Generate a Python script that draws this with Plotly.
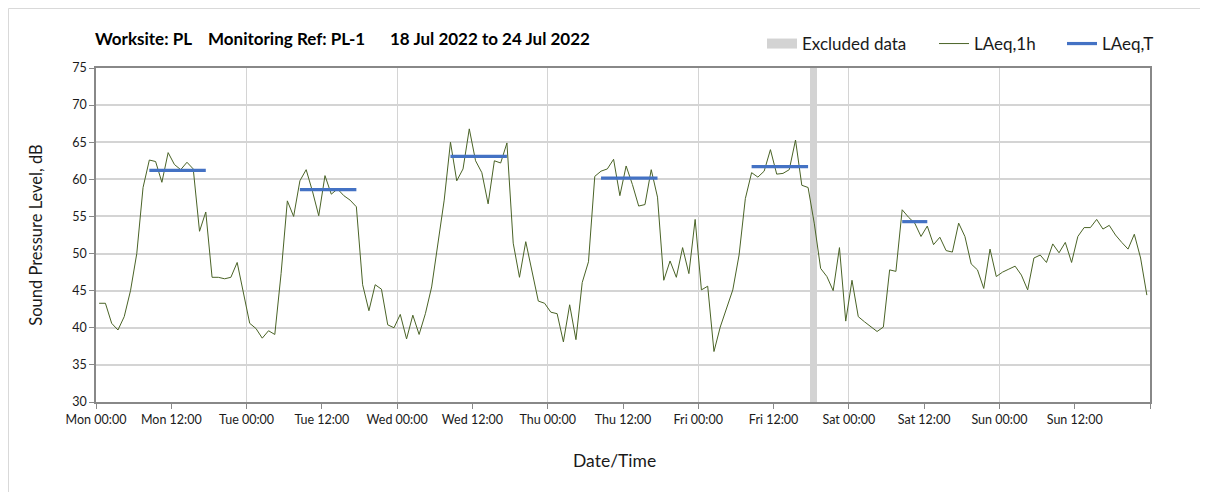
import numpy as np
import plotly.graph_objects as go

# ---- data ----
laeq_1h = [
    # Mon
    43.3, 43.3, 40.6, 39.7, 41.5, 45.0, 50.0, 58.9, 62.6, 62.4, 59.6, 63.6,
    62.0, 61.3, 62.3, 61.4, 53.0, 55.6, 46.8, 46.8, 46.6, 46.8, 48.8, 44.6,
    # Tue
    40.6, 39.9, 38.6, 39.6, 39.1, 47.3, 57.1, 55.0, 59.8, 61.3, 58.4, 55.1,
    60.5, 58.0, 58.7, 57.8, 57.2, 56.3, 45.8, 42.3, 45.8, 45.2, 40.4, 40.0,
    # Wed
    41.8, 38.5, 41.7, 39.1, 41.9, 45.5, 51.2, 57.2, 65.0, 59.8, 61.4, 66.8,
    62.5, 60.9, 56.7, 62.5, 62.2, 64.9, 51.4, 46.8, 51.6, 47.4, 43.6, 43.3,
    # Thu
    42.1, 41.9, 38.1, 43.1, 38.4, 46.1, 48.9, 60.4, 61.1, 61.4, 62.7, 57.8,
    61.8, 59.3, 56.4, 56.6, 61.3, 57.6, 46.4, 49.0, 46.8, 50.8, 47.3, 54.6,
    # Fri
    45.1, 45.6, 36.8, 40.1, 42.6, 45.1, 49.8, 57.4, 60.9, 60.3, 61.1, 64.0,
    60.7, 60.8, 61.3, 65.3, 59.2, 58.9, 54.0, 48.0, 46.9, 45.0, 50.8, 40.9,
    # Sat
    46.4, 41.5, 40.8, 40.1, 39.5, 40.1, 47.8, 47.6, 55.9, 54.9, 54.1, 52.3,
    53.7, 51.2, 52.2, 50.4, 50.2, 54.1, 52.3, 48.6, 47.8, 45.3, 50.6, 46.9,
    # Sun
    47.5, 47.9, 48.3, 47.1, 45.1, 49.4, 49.8, 48.8, 51.3, 50.1, 51.5, 48.8,
    52.3, 53.5, 53.5, 54.6, 53.3, 53.8, 52.5, 51.5, 50.6, 52.6, 49.4, 44.4,
]

# LAeq,T periods (hour index of first and last hourly value in the period)
laeqt_start = [8, 32, 56, 80, 104, 128]
laeqt_end = [17, 41, 65, 89, 113, 132]
laeqt_values = [61.2, 58.6, 63.1, 60.15, 61.7, 54.3]

# Excluded data period (hours from Mon 00:00)
excluded_start = [113.8]
excluded_end = [114.9]

tick_hours = [0, 12, 24, 36, 48, 60, 72, 84, 96, 108, 120, 132, 144, 156, 168]
tick_labels = ["Mon 00:00", "Mon 12:00", "Tue 00:00", "Tue 12:00", "Wed 00:00",
               "Wed 12:00", "Thu 00:00", "Thu 12:00", "Fri 00:00", "Fri 12:00",
               "Sat 00:00", "Sat 12:00", "Sun 00:00", "Sun 12:00", ""]

title_text = ("<b>Worksite: PL&nbsp;&nbsp;&nbsp;&nbsp;Monitoring Ref: PL-1"
              "&nbsp;&nbsp;&nbsp;&nbsp;&nbsp;&nbsp;18 Jul 2022 to 24 Jul 2022</b>")

# ---- figure ----
hours = np.arange(len(laeq_1h)) + 0.5

tx, ty = [], []
for s, e, v in zip(laeqt_start, laeqt_end, laeqt_values):
    tx += [s + 0.5, e + 0.5, None]
    ty += [v, v, None]

ymin, ymax = 30, 75
W, H = 1200, 484
ML, MR, MT, MB = 88, 58, 60, 90
PW = W - ML - MR
PH = H - MT - MB

fig = go.Figure()
fig.add_trace(go.Bar(
    x=[(s + e) / 2 for s, e in zip(excluded_start, excluded_end)],
    y=[ymax - ymin for _ in excluded_start],
    base=[ymin for _ in excluded_start],
    width=[e - s for s, e in zip(excluded_start, excluded_end)],
    marker=dict(color="#d3d3d3", line=dict(width=0)),
    name="Excluded data", hoverinfo="skip", showlegend=False,
))
# legend entry for excluded data (wide grey box)
fig.add_trace(go.Scatter(
    x=[None], y=[None], mode="lines", name="Excluded data",
    line=dict(color="#d3d3d3", width=11), legend="legend",
))
fig.add_trace(go.Scatter(
    x=hours, y=laeq_1h, mode="lines", name="LAeq,1h",
    line=dict(color="#4a6326", width=1), legend="legend2",
))
fig.add_trace(go.Scatter(
    x=tx, y=ty, mode="lines", name="LAeq,T",
    line=dict(color="#4472c4", width=3.2), legend="legend3",
))

font_family = "Lato, 'Open Sans', sans-serif"
leg_common = dict(orientation="h", xanchor="left", y=1 + 24 / PH,
                  yanchor="middle", font=dict(size=17, color="#1a1a1a"),
                  bgcolor="rgba(0,0,0,0)", itemwidth=30)

def lx(page_px):
    # page x of legend item start -> paper coordinate
    return (page_px - 8 - ML) / PW

fig.update_layout(
    width=W, height=H,
    paper_bgcolor="white", plot_bgcolor="white",
    margin=dict(l=ML, r=MR, t=MT, b=MB),
    font=dict(family=font_family, color="#1a1a1a", size=12),
    title=dict(text=title_text, x=87 / W, xanchor="left",
               y=1 - 31 / H, yanchor="middle",
               font=dict(size=17, color="black", family=font_family)),
    showlegend=True,
    legend=dict(x=lx(762), **leg_common),
    legend2=dict(x=lx(934), **leg_common),
    legend3=dict(x=lx(1062), **leg_common),
    bargap=0,
    annotations=[dict(text="Date/Time", xref="paper", yref="paper",
                      x=(614 - 8 - ML) / PW, y=-59 / PH,
                      xanchor="center", yanchor="middle", showarrow=False,
                      font=dict(size=17.5, color="#1a1a1a"))],
)

fig.update_xaxes(
    range=[0, 168],
    tickmode="array", tickvals=tick_hours, ticktext=tick_labels,
    ticks="outside", ticklen=5, tickcolor="#888888",
    showgrid=False,
    minor=dict(tickmode="linear", tick0=0, dtick=24, showgrid=True,
               gridcolor="#d4d4d4", gridwidth=1, ticks=""),
    showline=True, linecolor="#888888", linewidth=1.5, mirror=True,
    tickfont=dict(size=12.5),
    zeroline=False,
)
fig.update_yaxes(
    range=[ymin, ymax], dtick=5, tick0=30,
    ticks="outside", ticklen=5, tickcolor="#888888",
    showgrid=True, gridcolor="#d4d4d4", gridwidth=1.5,
    showline=True, linecolor="#888888", linewidth=1.5, mirror=True,
    tickfont=dict(size=12.5),
    title=dict(text="Sound Pressure Level, dB", font=dict(size=16.5), standoff=25),
    zeroline=False,
)

# light outer frame (left and top edges) around the chart
fig.add_shape(type="line", xref="paper", yref="paper",
              x0=(0.5 - ML) / PW, x1=(0.5 - ML) / PW,
              y0=-MB / PH, y1=1 + (MT - 0.5) / PH,
              line=dict(color="#d9d9d9", width=1), layer="below")
fig.add_shape(type="line", xref="paper", yref="paper",
              x0=(0.5 - ML) / PW, x1=1 + MR / PW,
              y0=1 + (MT - 0.5) / PH, y1=1 + (MT - 0.5) / PH,
              line=dict(color="#d9d9d9", width=1), layer="below")

fig.write_html("out.html")
